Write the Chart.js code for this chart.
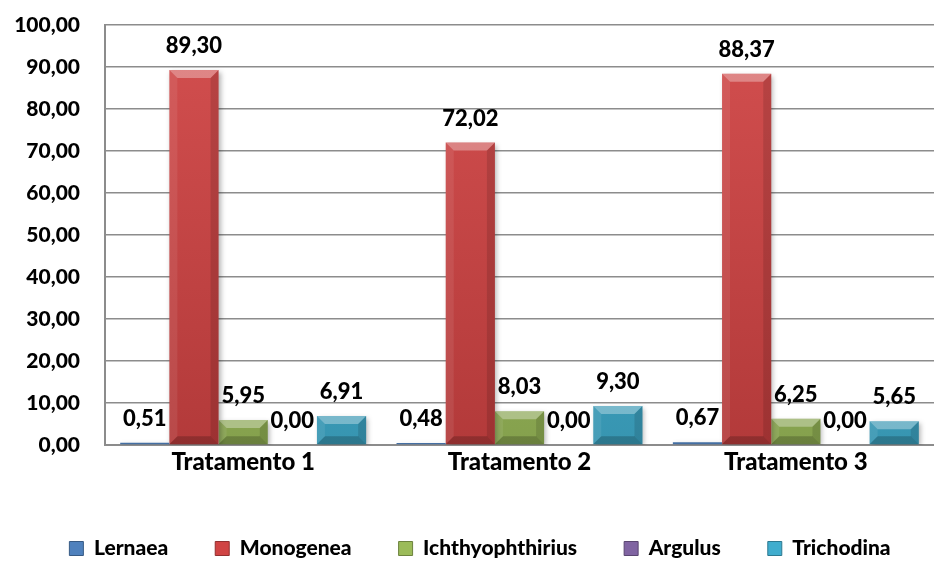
<!DOCTYPE html>
<html>
<head>
<meta charset="utf-8">
<script src="https://cdn.jsdelivr.net/npm/chart.js@4.4.0/dist/chart.umd.min.js"></script>
<style>
  html, body { margin: 0; padding: 0; background: #fff; }
  #wrap { width: 934px; height: 563px; }
</style>
</head>
<body>
<div id="wrap"><canvas id="chart" width="934" height="563"></canvas></div>
<script>
// values
const categories = ['Tratamento 1', 'Tratamento 2', 'Tratamento 3'];
const lernaea = [0.51, 0.48, 0.67];
const monogenea = [89.30, 72.02, 88.37];
const ichthyophthirius = [5.95, 8.03, 6.25];
const argulus = [0.00, 0.00, 0.00];
const trichodina = [6.91, 9.30, 5.65];
const yTicks = [0, 10, 20, 30, 40, 50, 60, 70, 80, 90, 100];

const FONT = 'Lato, "Open Sans", sans-serif';
const WEIGHT = '900';

// comma decimal like the original
function fmt(v) {
    return v.toFixed(2).replace('.', ',');
}

function shade(hex, amt) {
    const n = parseInt(hex.slice(1), 16);
    let r = (n >> 16) & 255, g = (n >> 8) & 255, b = n & 255;
    const f = c => Math.max(0, Math.min(255, Math.round(amt > 0 ? c + (255 - c) * amt : c * (1 + amt))));
    return `rgb(${f(r)},${f(g)},${f(b)})`;
}

function barFill(base) {
    return (ctx) => {
        const area = ctx.chart.chartArea;
        if (!area) return base;
        const g = ctx.chart.ctx.createLinearGradient(0, area.top, 0, area.bottom);
        g.addColorStop(0, shade(base, 0.06));
        g.addColorStop(1, shade(base, -0.14));
        return g;
    };
}

// soft drop shadow under the bars
const shadowPlugin = {
    id: 'barShadow',
    beforeDatasetsDraw(chart) {
        const c = chart.ctx;
        c.save();
        c.shadowColor = 'rgba(0,0,0,0.30)';
        c.shadowBlur = 5;
        c.shadowOffsetX = 2;
        c.shadowOffsetY = 2;
    },
    afterDatasetsDraw(chart) {
        chart.ctx.restore();
    }
};

// bevelled look of the office bars
const bevelPlugin = {
    id: 'bevel',
    afterDatasetsDraw(chart) {
        const c = chart.ctx;
        chart.data.datasets.forEach((ds, i) => {
            const meta = chart.getDatasetMeta(i);
            meta.data.forEach(bar => {
                const w = bar.width;
                const x0 = bar.x - w / 2, x1 = bar.x + w / 2;
                const y0 = bar.y, y1 = bar.base;
                const h = y1 - y0;
                if (h < 3) return;
                const b = Math.min(8, h / 2, w / 2);
                c.save();
                const poly = (pts, color) => {
                    c.beginPath();
                    c.moveTo(pts[0][0], pts[0][1]);
                    for (let k = 1; k < pts.length; k++) c.lineTo(pts[k][0], pts[k][1]);
                    c.closePath();
                    c.fillStyle = color;
                    c.fill();
                };
                poly([[x0, y0], [x1, y0], [x1 - b, y0 + b], [x0 + b, y0 + b]], 'rgba(255,255,255,0.32)');
                poly([[x0, y0], [x0 + b, y0 + b], [x0 + b, y1 - b], [x0, y1]], 'rgba(255,255,255,0.08)');
                poly([[x1, y0], [x1, y1], [x1 - b, y1 - b], [x1 - b, y0 + b]], 'rgba(0,0,0,0.12)');
                poly([[x0, y1], [x0 + b, y1 - b], [x1 - b, y1 - b], [x1, y1]], 'rgba(0,0,0,0.20)');
                c.restore();
            });
        });
    }
};

// value labels above each bar
const valueLabels = {
    id: 'valueLabels',
    afterDatasetsDraw(chart) {
        const c = chart.ctx;
        c.save();
        c.font = WEIGHT + ' 22px ' + FONT;
        c.fillStyle = '#000';
        c.textAlign = 'center';
        c.textBaseline = 'alphabetic';
        chart.data.datasets.forEach((ds, i) => {
            const meta = chart.getDatasetMeta(i);
            meta.data.forEach((bar, j) => {
                c.fillText(fmt(ds.data[j]), bar.x, bar.y - 17);
            });
        });
        c.restore();
    }
};

// the legend sits a little right of centre in the original
const legendShift = {
    id: 'legendShift',
    afterLayout(chart) {
        if (chart.legend) {
            chart.legend.left += 13;
            chart.legend.right += 13;
        }
    }
};

const colors = ['#4F81BD', '#D04444', '#9BBB59', '#8064A2', '#40ADCE'];
const names = ['Lernaea', 'Monogenea', 'Ichthyophthirius', 'Argulus', 'Trichodina'];
const series = [lernaea, monogenea, ichthyophthirius, argulus, trichodina];

new Chart(document.getElementById('chart'), {
    type: 'bar',
    data: {
        labels: categories,
        datasets: series.map((s, i) => ({
            label: names[i],
            data: s,
            backgroundColor: barFill(colors[i]),
            borderWidth: 0,
            categoryPercentage: 0.89,
            barPercentage: 1.0
        }))
    },
    options: {
        responsive: false,
        animation: false,
        layout: { padding: { top: 25, right: 0, bottom: -6, left: 0 } },
        plugins: {
            legend: {
                position: 'bottom',
                labels: {
                    font: { family: FONT, size: 21, weight: WEIGHT },
                    color: '#000',
                    boxWidth: 14,
                    boxHeight: 14,
                    padding: 47,
                    generateLabels(chart) {
                        return chart.data.datasets.map((ds, i) => ({
                            text: ds.label,
                            fillStyle: colors[i],
                            strokeStyle: shade(colors[i], -0.3),
                            lineWidth: 1,
                            datasetIndex: i
                        }));
                    }
                }
            },
            tooltip: { enabled: false }
        },
        scales: {
            x: {
                grid: { display: false, drawTicks: false },
                border: { display: true, color: '#8c8c8c', width: 2 },
                ticks: {
                    font: { family: FONT, size: 24, weight: WEIGHT },
                    color: '#000',
                    padding: 3
                },
                afterFit(scale) { scale.height = 46; }
            },
            y: {
                min: 0,
                max: 100,
                afterBuildTicks(scale) { scale.ticks = yTicks.map(v => ({ value: v })); },
                grid: { color: '#8c8c8c', lineWidth: 1.5, drawTicks: false },
                border: { display: true, color: '#8c8c8c', width: 2 },
                ticks: {
                    font: { family: FONT, size: 21, weight: WEIGHT },
                    color: '#000',
                    padding: 25,
                    callback: v => fmt(v)
                },
                afterFit(scale) {
                    scale.width = 105;
                    // tick padding would otherwise push the plot down
                    scale.paddingTop = 0;
                    scale.paddingBottom = 0;
                }
            }
        }
    },
    plugins: [shadowPlugin, bevelPlugin, valueLabels, legendShift]
});
</script>
</body>
</html>
